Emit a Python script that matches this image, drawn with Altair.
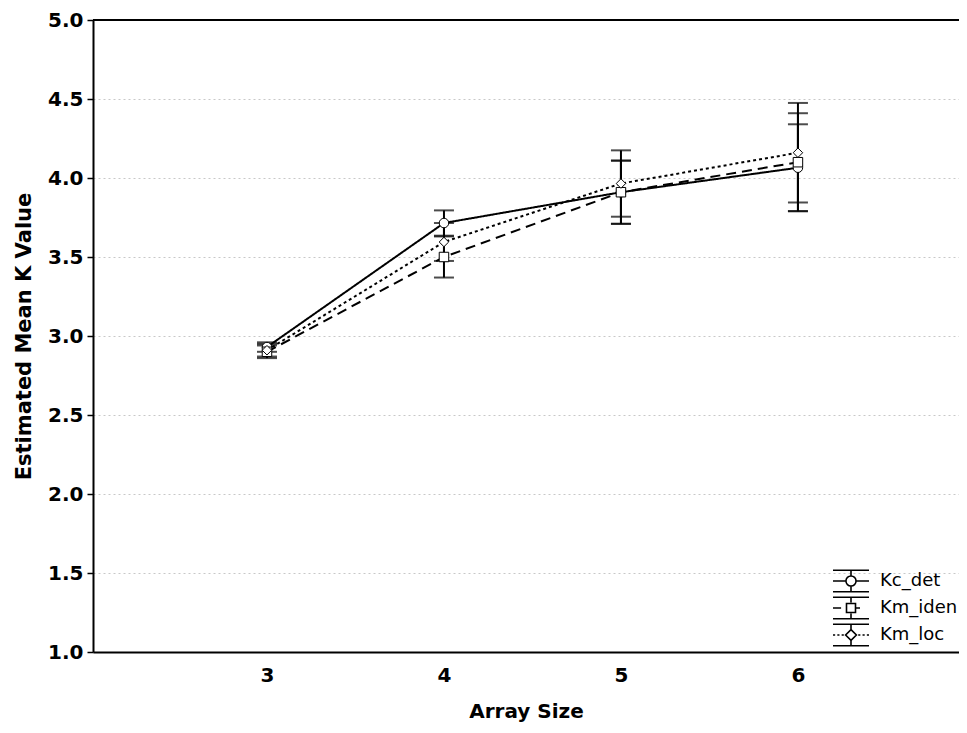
import altair as alt
import pandas as pd

sizes = [3, 4, 5, 6]
series_names = ["Kc_det", "Km_iden", "Km_loc"]
kc_det_mean = [2.93, 3.715, 3.91, 4.065]
kc_det_err = [0.03, 0.08, 0.20, 0.275]
km_iden_mean = [2.90, 3.50, 3.91, 4.10]
km_iden_err = [0.04, 0.13, 0.20, 0.31]
km_loc_mean = [2.91, 3.595, 3.965, 4.16]
km_loc_err = [0.04, 0.12, 0.21, 0.315]

rows = []
for name, means, errs in zip(series_names,
                             [kc_det_mean, km_iden_mean, km_loc_mean],
                             [kc_det_err, km_iden_err, km_loc_err]):
    for s, m, e in zip(sizes, means, errs):
        rows.append({"size": s, "series": name, "mean": m, "lo": m - e, "hi": m + e})
df = pd.DataFrame(rows)

FONT = "DejaVu Sans"
xscale = alt.Scale(domain=[2.017, 6.91], nice=False, zero=False)
yscale = alt.Scale(domain=[1.0, 5.0], nice=False, zero=False)

x_enc = alt.X("size:Q", scale=xscale, title="Array Size",
              axis=alt.Axis(values=sizes, format="d", ticks=False, grid=False,
                            labelFont=FONT, labelFontSize=20, labelFontWeight="bold",
                            labelColor="black", labelPadding=13,
                            titleFont=FONT, titleFontSize=20, titleFontWeight="bold",
                            titleColor="black", titlePadding=16,
                            domainColor="black", domainWidth=2))
y_axis = alt.Axis(values=[1.0, 1.5, 2.0, 2.5, 3.0, 3.5, 4.0, 4.5, 5.0], format=".1f",
                  tickSize=6, tickColor="black", tickWidth=1.5,
                  labelFont=FONT, labelFontSize=20, labelFontWeight="bold",
                  labelColor="black", labelPadding=4,
                  titleFont=FONT, titleFontSize=21, titleFontWeight="bold",
                  titleColor="black", titlePadding=13,
                  domainColor="black", domainWidth=2,
                  grid=True, gridColor="#c8c8c8", gridDash=[2, 3], gridWidth=1)

dash_scale = alt.Scale(domain=series_names, range=[[1, 0], [10, 6], [3, 3]])
shape_scale = alt.Scale(domain=series_names, range=["circle", "square", "diamond"])

# legend glyphs: error bar + line style + marker (unit coordinates)
common = ("M -1 -0.6 L 1 -0.6 M -1 0.6 L 1 0.6 "
          "M 0 -0.6 L 0 -0.3 M 0 0.3 L 0 0.6 ")
legend_paths = [
    common + "M -1 0 L -0.28 0 M 0.28 0 L 1 0 "
    "M 0.28 0 A 0.28 0.28 0 1 1 -0.28 0 A 0.28 0.28 0 1 1 0.28 0 Z",
    common + "M -1 0 L -0.55 0 M 0.25 0 L 0.5 0 "
    "M -0.25 -0.25 L 0.25 -0.25 L 0.25 0.25 L -0.25 0.25 Z",
    common + "M -1 0 L -0.88 0 M -0.76 0 L -0.64 0 M -0.52 0 L -0.40 0 "
    "M 0.40 0 L 0.52 0 M 0.64 0 L 0.76 0 M 0.88 0 L 1 0 "
    "M 0 -0.3 L 0.3 0 L 0 0.3 L -0.3 0 Z",
]

base = alt.Chart(df)

lines = base.mark_line(color="black", strokeWidth=2).encode(
    x=x_enc,
    y=alt.Y("mean:Q", scale=yscale, title="Estimated Mean K Value", axis=y_axis),
    strokeDash=alt.StrokeDash("series:N", scale=dash_scale, legend=None),
    detail="series:N",
)

rules = base.mark_rule(color="black", strokeWidth=2).encode(
    x="size:Q", y="lo:Q", y2="hi:Q", detail="series:N")
tick_lo = base.mark_tick(color="black", thickness=2, size=20, orient="horizontal").encode(
    x="size:Q", y="lo:Q")
tick_hi = base.mark_tick(color="black", thickness=2, size=20, orient="horizontal").encode(
    x="size:Q", y="hi:Q")

points = base.mark_point(filled=True, fill="white", stroke="black", strokeWidth=1,
                         size=90, opacity=1).encode(
    x="size:Q", y="mean:Q",
    shape=alt.Shape("series:N", scale=shape_scale, legend=None),
)

leg_df = pd.DataFrame({"label": series_names, "size": [3, 3, 3], "mean": [0.0, 0.0, 0.0]})
legend_layer = alt.Chart(leg_df).mark_point(
    filled=False, color="black", stroke="black", strokeWidth=1.6, clip=True, size=10,
    opacity=1
).encode(
    x="size:Q", y="mean:Q",
    shape=alt.Shape("label:N",
                    scale=alt.Scale(domain=series_names, range=legend_paths),
                    legend=alt.Legend(title=None, orient="none",
                                      legendX=739, legendY=549,
                                      labelFont=FONT, labelFontSize=18,
                                      labelColor="black",
                                      symbolStrokeColor="black",
                                      symbolStrokeWidth=1.6, symbolSize=1296,
                                      symbolOpacity=1,
                                      clipHeight=24, rowPadding=3, labelOffset=10)),
)

top = alt.Chart(pd.DataFrame({"v": [5.0]})).mark_rule(color="black", strokeWidth=2).encode(
    y=alt.Y("v:Q", scale=yscale))

chart = alt.layer(lines, rules, tick_lo, tick_hi, points, legend_layer, top).resolve_scale(
    shape="independent"
).properties(
    width=866, height=632,
    autosize=alt.AutoSizeParams(type="none"),
    padding={"left": 85, "top": 12, "right": 0, "bottom": 73},
    background="white",
).configure_view(stroke=None)

chart.save("out.html", embed_options={"renderer": "svg", "actions": False})
